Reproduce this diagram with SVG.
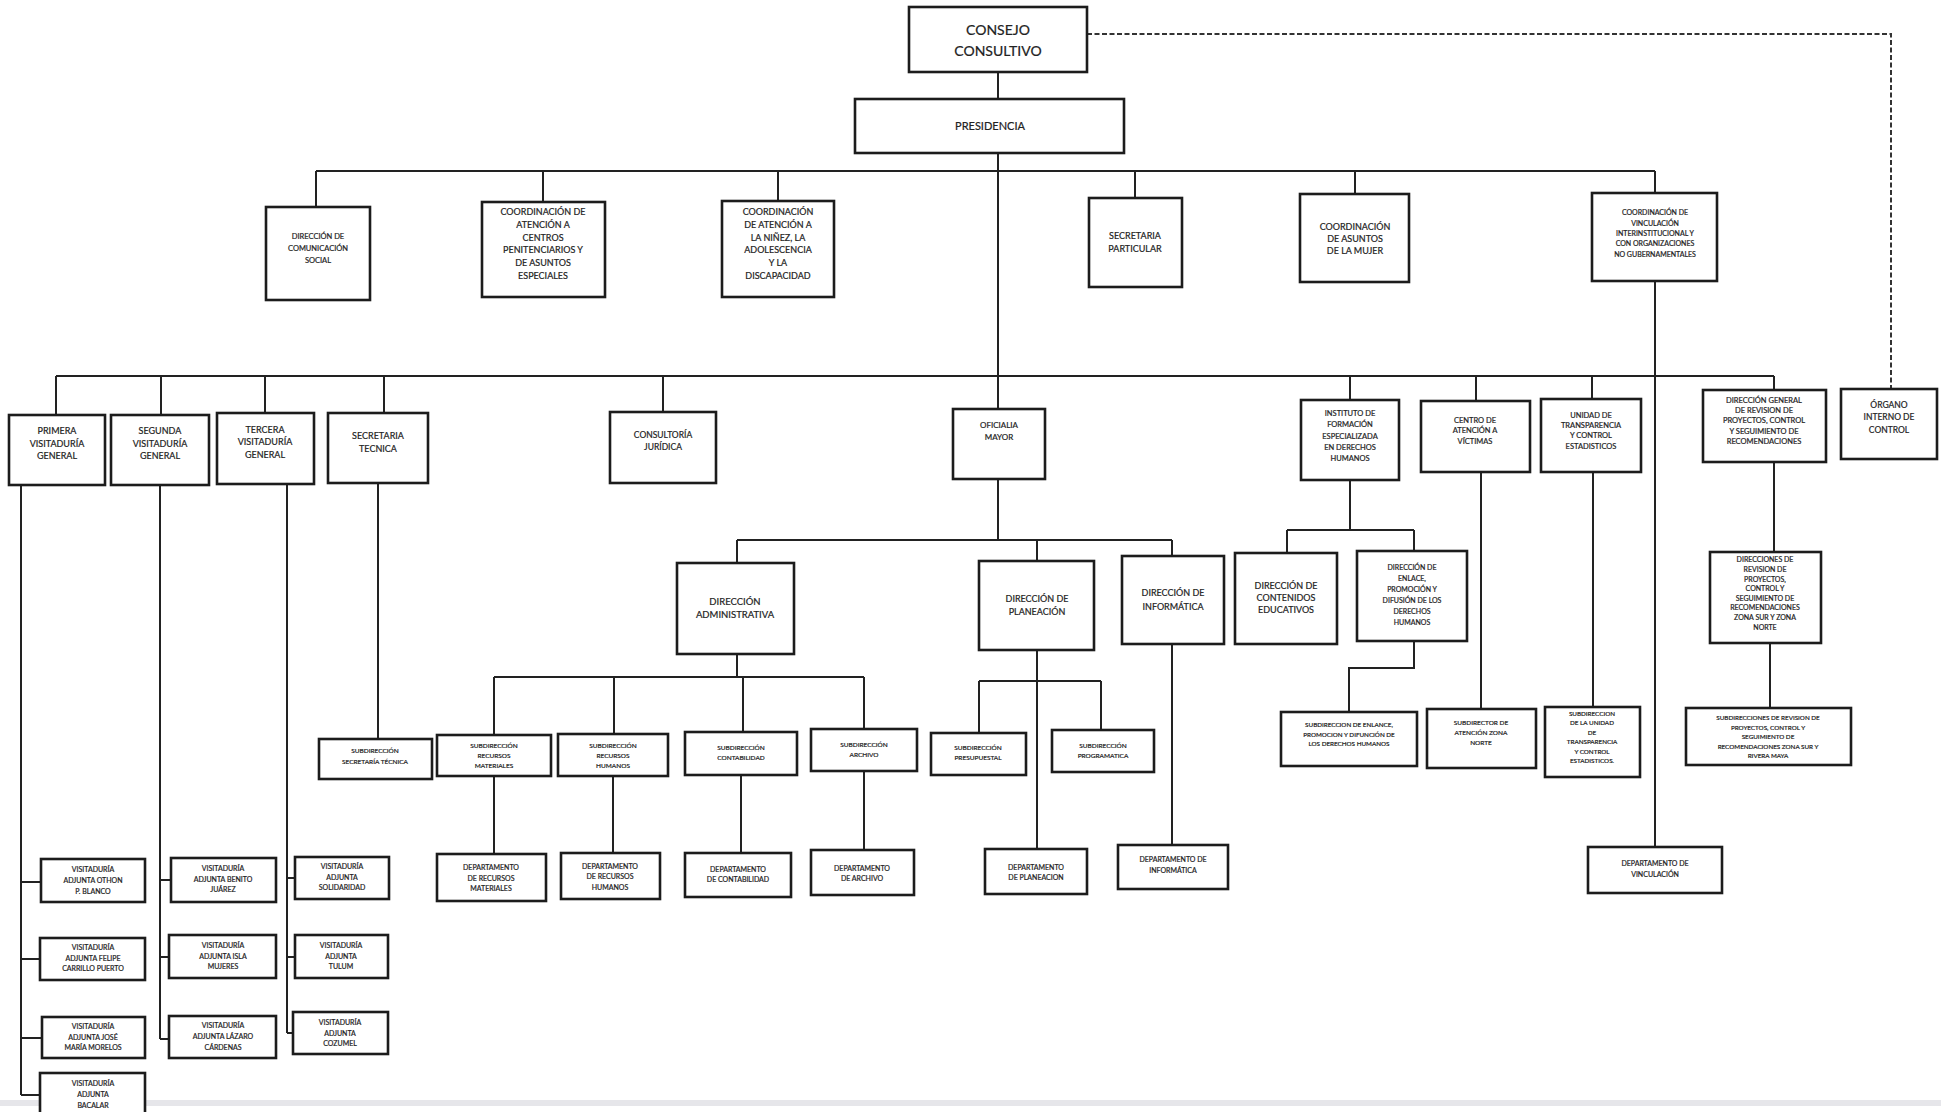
<svg xmlns="http://www.w3.org/2000/svg" width="1941" height="1112" viewBox="0 0 1941 1112">
<style>
.b{fill:#fff;stroke:#1c1c1c;stroke-width:2.6}
.c{fill:none;stroke:#222;stroke-width:2}
.d{fill:none;stroke:#333;stroke-width:2;stroke-dasharray:5 2.5}
text{font-family:Lato,"Open Sans","Liberation Sans",sans-serif;fill:#222;stroke:#222;stroke-width:0.2;text-anchor:middle}
.f14{font-size:14px}.f11{font-size:11px}.f95{font-size:9.5px}.f9{font-size:9px}.f85{font-size:8.5px}.f8{font-size:8px}.f75{font-size:7.5px}.f7{font-size:7px}.f65{font-size:6.5px}.f63{font-size:6.3px}
</style>
<rect width="1941" height="1112" fill="#fff"/>
<rect x="0" y="1100" width="1941" height="6" fill="#e6e6ea"/>
<g id="connectors">
<path class="d" d="M1087 34H1891V389"/>
<path class="c" d="M998 72V99M998 153V409"/>
<path class="c" d="M316 171H1655M316 171V207M543 171V202M778 171V201M1135 171V198M1355 171V194M1655 171V193"/>
<path class="c" d="M1655 281V847"/>
<path class="c" d="M56 376H1774M56 376V415M161 376V415M265 376V413M384 376V413M663 376V412M1350 376V400M1476 376V401M1592 376V399M1774 376V390"/>
<path class="c" d="M21 485V1095M21 882H41M21 959H40M21 1038H42M21 1095H40"/>
<path class="c" d="M160 485V1039M160 880H171M160 957H169M160 1039H169"/>
<path class="c" d="M287 484V1033M287 878H295M287 957H295M287 1033H293"/>
<path class="c" d="M378 483V739"/>
<path class="c" d="M998 479V540M737 540H1172M737 540V563M1037 540V561M1172 540V556"/>
<path class="c" d="M737 654V677M494 677H864M494 677V735M614 677V734M743 677V732M864 677V729"/>
<path class="c" d="M494 776V854M613 776V853M741 775V853M864 771V850"/>
<path class="c" d="M1037 650V849M979 681H1101M979 681V733M1101 681V730"/>
<path class="c" d="M1172 644V845"/>
<path class="c" d="M1350 480V530M1287 530H1414M1287 530V553M1414 530V551"/>
<path class="c" d="M1414 641V668H1349V712"/>
<path class="c" d="M1481 472V709"/>
<path class="c" d="M1593 472V707"/>
<path class="c" d="M1774 462V552M1770 643V708"/>
</g>
<g id="consejo"><rect class="b" x="909" y="7" width="178" height="65"/><text class="f14"><tspan x="998" y="35">CONSEJO</tspan><tspan x="998" y="56">CONSULTIVO</tspan></text></g>
<g id="presidencia"><rect class="b" x="855" y="99" width="269" height="54"/><text class="f11" x="990" y="130">PRESIDENCIA</text></g>
<g id="dcs"><rect class="b" x="266" y="207" width="104" height="93"/><text class="f75"><tspan x="318" y="239">DIRECCIÓN DE</tspan><tspan x="318" y="251">COMUNICACIÓN</tspan><tspan x="318" y="263">SOCIAL</tspan></text></g>
<g id="ccp"><rect class="b" x="482" y="202" width="123" height="95"/><text class="f9"><tspan x="543" y="215">COORDINACIÓN DE</tspan><tspan x="543" y="228">ATENCIÓN A</tspan><tspan x="543" y="241">CENTROS</tspan><tspan x="543" y="253">PENITENCIARIOS Y</tspan><tspan x="543" y="266">DE ASUNTOS</tspan><tspan x="543" y="279">ESPECIALES</tspan></text></g>
<g id="can"><rect class="b" x="722" y="201" width="112" height="96"/><text class="f9"><tspan x="778" y="215">COORDINACIÓN</tspan><tspan x="778" y="228">DE ATENCIÓN A</tspan><tspan x="778" y="241">LA NIÑEZ, LA</tspan><tspan x="778" y="253">ADOLESCENCIA</tspan><tspan x="778" y="266">Y LA</tspan><tspan x="778" y="279">DISCAPACIDAD</tspan></text></g>
<g id="sp"><rect class="b" x="1089" y="198" width="93" height="89"/><text class="f9"><tspan x="1135" y="239">SECRETARIA</tspan><tspan x="1135" y="252">PARTICULAR</tspan></text></g>
<g id="cam"><rect class="b" x="1300" y="194" width="109" height="88"/><text class="f9"><tspan x="1355" y="230">COORDINACIÓN</tspan><tspan x="1355" y="242">DE ASUNTOS</tspan><tspan x="1355" y="254">DE LA MUJER</tspan></text></g>
<g id="cvi"><rect class="b" x="1592" y="193" width="125" height="88"/><text class="f7"><tspan x="1655" y="215">COORDINACIÓN DE</tspan><tspan x="1655" y="226">VINCULACIÓN</tspan><tspan x="1655" y="236">INTERINSTITUCIONAL Y</tspan><tspan x="1655" y="246">CON ORGANIZACIONES</tspan><tspan x="1655" y="257">NO GUBERNAMENTALES</tspan></text></g>
<g id="pvg"><rect class="b" x="9" y="415" width="96" height="70"/><text class="f9"><tspan x="57" y="434">PRIMERA</tspan><tspan x="57" y="446.5">VISITADURÍA</tspan><tspan x="57" y="459">GENERAL</tspan></text></g>
<g id="svg"><rect class="b" x="111" y="415" width="98" height="70"/><text class="f9"><tspan x="160" y="434">SEGUNDA</tspan><tspan x="160" y="446.5">VISITADURÍA</tspan><tspan x="160" y="459">GENERAL</tspan></text></g>
<g id="tvg"><rect class="b" x="217" y="413" width="97" height="71"/><text class="f9"><tspan x="265" y="433">TERCERA</tspan><tspan x="265" y="445">VISITADURÍA</tspan><tspan x="265" y="457.5">GENERAL</tspan></text></g>
<g id="st"><rect class="b" x="328" y="413" width="100" height="70"/><text class="f9"><tspan x="378" y="439">SECRETARIA</tspan><tspan x="378" y="452">TECNICA</tspan></text></g>
<g id="cj"><rect class="b" x="610" y="412" width="106" height="71"/><text class="f85"><tspan x="663" y="438">CONSULTORÍA</tspan><tspan x="663" y="450">JURÍDICA</tspan></text></g>
<g id="om"><rect class="b" x="953" y="409" width="92" height="70"/><text class="f8"><tspan x="999" y="428">OFICIALIA</tspan><tspan x="999" y="440">MAYOR</tspan></text></g>
<g id="ifedh"><rect class="b" x="1301" y="400" width="98" height="80"/><text class="f75"><tspan x="1350" y="416">INSTITUTO DE</tspan><tspan x="1350" y="427">FORMACIÓN</tspan><tspan x="1350" y="439">ESPECIALIZADA</tspan><tspan x="1350" y="450">EN DERECHOS</tspan><tspan x="1350" y="461">HUMANOS</tspan></text></g>
<g id="cav"><rect class="b" x="1421" y="401" width="109" height="71"/><text class="f75"><tspan x="1475" y="423">CENTRO DE</tspan><tspan x="1475" y="433">ATENCIÓN A</tspan><tspan x="1475" y="444">VÍCTIMAS</tspan></text></g>
<g id="utce"><rect class="b" x="1541" y="399" width="100" height="73"/><text class="f75"><tspan x="1591" y="418">UNIDAD DE</tspan><tspan x="1591" y="428">TRANSPARENCIA</tspan><tspan x="1591" y="438">Y CONTROL</tspan><tspan x="1591" y="449">ESTADISTICOS</tspan></text></g>
<g id="dgr"><rect class="b" x="1703" y="390" width="123" height="72"/><text class="f75"><tspan x="1764" y="403">DIRECCIÓN GENERAL</tspan><tspan x="1764" y="413">DE REVISION DE</tspan><tspan x="1764" y="423">PROYECTOS, CONTROL</tspan><tspan x="1764" y="434">Y SEGUIMIENTO DE</tspan><tspan x="1764" y="444">RECOMENDACIONES</tspan></text></g>
<g id="oic"><rect class="b" x="1841" y="389" width="96" height="70"/><text class="f85"><tspan x="1889" y="408">ÓRGANO</tspan><tspan x="1889" y="420">INTERNO DE</tspan><tspan x="1889" y="433">CONTROL</tspan></text></g>
<g id="da"><rect class="b" x="677" y="563" width="117" height="91"/><text class="f95"><tspan x="735" y="605">DIRECCIÓN</tspan><tspan x="735" y="618">ADMINISTRATIVA</tspan></text></g>
<g id="dp"><rect class="b" x="979" y="561" width="115" height="89"/><text class="f9"><tspan x="1037" y="602">DIRECCIÓN DE</tspan><tspan x="1037" y="615">PLANEACIÓN</tspan></text></g>
<g id="di"><rect class="b" x="1122" y="556" width="102" height="88"/><text class="f9"><tspan x="1173" y="596">DIRECCIÓN DE</tspan><tspan x="1173" y="610">INFORMÁTICA</tspan></text></g>
<g id="dce"><rect class="b" x="1235" y="553" width="102" height="91"/><text class="f9"><tspan x="1286" y="589">DIRECCIÓN DE</tspan><tspan x="1286" y="601">CONTENIDOS</tspan><tspan x="1286" y="613">EDUCATIVOS</tspan></text></g>
<g id="dep"><rect class="b" x="1357" y="551" width="110" height="90"/><text class="f7"><tspan x="1412" y="570">DIRECCIÓN DE</tspan><tspan x="1412" y="581">ENLACE,</tspan><tspan x="1412" y="592">PROMOCIÓN Y</tspan><tspan x="1412" y="603">DIFUSIÓN DE LOS</tspan><tspan x="1412" y="614">DERECHOS</tspan><tspan x="1412" y="625">HUMANOS</tspan></text></g>
<g id="drz"><rect class="b" x="1710" y="552" width="111" height="91"/><text class="f7"><tspan x="1765" y="562">DIRECCIONES DE</tspan><tspan x="1765" y="572">REVISION DE</tspan><tspan x="1765" y="582">PROYECTOS,</tspan><tspan x="1765" y="591">CONTROL Y</tspan><tspan x="1765" y="601">SEGUIMIENTO DE</tspan><tspan x="1765" y="610">RECOMENDACIONES</tspan><tspan x="1765" y="620">ZONA SUR Y ZONA</tspan><tspan x="1765" y="630">NORTE</tspan></text></g>
<g id="sst"><rect class="b" x="319" y="739" width="113" height="40"/><text class="f65"><tspan x="375" y="753">SUBDIRECCIÓN</tspan><tspan x="375" y="764">SECRETARÍA TÉCNICA</tspan></text></g>
<g id="srm"><rect class="b" x="437" y="735" width="114" height="41"/><text class="f65"><tspan x="494" y="748">SUBDIRECCIÓN</tspan><tspan x="494" y="758">RECURSOS</tspan><tspan x="494" y="768">MATERIALES</tspan></text></g>
<g id="srh"><rect class="b" x="558" y="734" width="110" height="42"/><text class="f65"><tspan x="613" y="748">SUBDIRECCIÓN</tspan><tspan x="613" y="758">RECURSOS</tspan><tspan x="613" y="768">HUMANOS</tspan></text></g>
<g id="sc"><rect class="b" x="685" y="732" width="112" height="43"/><text class="f65"><tspan x="741" y="750">SUBDIRECCIÓN</tspan><tspan x="741" y="760">CONTABILIDAD</tspan></text></g>
<g id="sa"><rect class="b" x="811" y="729" width="106" height="42"/><text class="f65"><tspan x="864" y="747">SUBDIRECCIÓN</tspan><tspan x="864" y="757">ARCHIVO</tspan></text></g>
<g id="spp"><rect class="b" x="931" y="733" width="95" height="42"/><text class="f65"><tspan x="978" y="750">SUBDIRECCIÓN</tspan><tspan x="978" y="760">PRESUPUESTAL</tspan></text></g>
<g id="spg"><rect class="b" x="1052" y="730" width="102" height="42"/><text class="f65"><tspan x="1103" y="748">SUBDIRECCIÓN</tspan><tspan x="1103" y="758">PROGRAMATICA</tspan></text></g>
<g id="sep"><rect class="b" x="1281" y="712" width="136" height="54"/><text class="f63"><tspan x="1349" y="727">SUBDIRECCION DE ENLANCE,</tspan><tspan x="1349" y="737">PROMOCION Y DIFUNCIÓN DE</tspan><tspan x="1349" y="746">LOS DERECHOS HUMANOS</tspan></text></g>
<g id="sazn"><rect class="b" x="1427" y="709" width="109" height="59"/><text class="f65"><tspan x="1481" y="725">SUBDIRECTOR DE</tspan><tspan x="1481" y="735">ATENCIÓN ZONA</tspan><tspan x="1481" y="745">NORTE</tspan></text></g>
<g id="sut"><rect class="b" x="1545" y="707" width="95" height="70"/><text class="f63"><tspan x="1592" y="716">SUBDIRECCION</tspan><tspan x="1592" y="725">DE LA UNIDAD</tspan><tspan x="1592" y="735">DE</tspan><tspan x="1592" y="744">TRANSPARENCIA</tspan><tspan x="1592" y="754">Y CONTROL</tspan><tspan x="1592" y="763">ESTADISTICOS.</tspan></text></g>
<g id="srz"><rect class="b" x="1686" y="708" width="165" height="57"/><text class="f63"><tspan x="1768" y="720">SUBDIRECCIONES  DE REVISION DE</tspan><tspan x="1768" y="730">PROYECTOS, CONTROL Y</tspan><tspan x="1768" y="739">SEGUIMIENTO DE</tspan><tspan x="1768" y="749">RECOMENDACIONES  ZONA SUR  Y</tspan><tspan x="1768" y="758">RIVERA MAYA</tspan></text></g>
<g id="drm"><rect class="b" x="437" y="854" width="109" height="47"/><text class="f7"><tspan x="491" y="870">DEPARTAMENTO</tspan><tspan x="491" y="881">DE RECURSOS</tspan><tspan x="491" y="891">MATERIALES</tspan></text></g>
<g id="drh"><rect class="b" x="561" y="853" width="99" height="46"/><text class="f7"><tspan x="610" y="869">DEPARTAMENTO</tspan><tspan x="610" y="879">DE RECURSOS</tspan><tspan x="610" y="890">HUMANOS</tspan></text></g>
<g id="dc"><rect class="b" x="685" y="853" width="106" height="44"/><text class="f7"><tspan x="738" y="872">DEPARTAMENTO</tspan><tspan x="738" y="882">DE CONTABILIDAD</tspan></text></g>
<g id="dar"><rect class="b" x="811" y="850" width="103" height="45"/><text class="f7"><tspan x="862" y="871">DEPARTAMENTO</tspan><tspan x="862" y="881">DE ARCHIVO</tspan></text></g>
<g id="dpl"><rect class="b" x="985" y="849" width="102" height="45"/><text class="f7"><tspan x="1036" y="870">DEPARTAMENTO</tspan><tspan x="1036" y="880">DE PLANEACION</tspan></text></g>
<g id="dinf"><rect class="b" x="1118" y="845" width="110" height="44"/><text class="f7"><tspan x="1173" y="862">DEPARTAMENTO DE</tspan><tspan x="1173" y="873">INFORMÁTICA</tspan></text></g>
<g id="dvin"><rect class="b" x="1588" y="847" width="134" height="46"/><text class="f7"><tspan x="1655" y="866">DEPARTAMENTO DE</tspan><tspan x="1655" y="877">VINCULACIÓN</tspan></text></g>
<g id="vop"><rect class="b" x="41" y="859" width="104" height="43"/><text class="f7"><tspan x="93" y="871.5">VISITADURÍA</tspan><tspan x="93" y="882.5">ADJUNTA OTHON</tspan><tspan x="93" y="893.5">P. BLANCO</tspan></text></g>
<g id="vfcp"><rect class="b" x="40" y="938" width="105" height="42"/><text class="f7"><tspan x="93" y="950">VISITADURÍA</tspan><tspan x="93" y="960.5">ADJUNTA  FELIPE</tspan><tspan x="93" y="971">CARRILLO PUERTO</tspan></text></g>
<g id="vjmm"><rect class="b" x="42" y="1017" width="103" height="41"/><text class="f7"><tspan x="93" y="1029">VISITADURÍA</tspan><tspan x="93" y="1039.5">ADJUNTA JOSÉ</tspan><tspan x="93" y="1050">MARÍA MORELOS</tspan></text></g>
<g id="vbac"><rect class="b" x="40" y="1073" width="105" height="46"/><text class="f7"><tspan x="93" y="1086">VISITADURÍA</tspan><tspan x="93" y="1097">ADJUNTA</tspan><tspan x="93" y="1108">BACALAR</tspan></text></g>
<g id="vbj"><rect class="b" x="171" y="858" width="105" height="44"/><text class="f7"><tspan x="223" y="871">VISITADURÍA</tspan><tspan x="223" y="881.5">ADJUNTA BENITO</tspan><tspan x="223" y="892">JUÁREZ</tspan></text></g>
<g id="vim"><rect class="b" x="169" y="935" width="107" height="43"/><text class="f7"><tspan x="223" y="948">VISITADURÍA</tspan><tspan x="223" y="958.5">ADJUNTA ISLA</tspan><tspan x="223" y="969">MUJERES</tspan></text></g>
<g id="vlc"><rect class="b" x="169" y="1016" width="107" height="42"/><text class="f7"><tspan x="223" y="1028">VISITADURÍA</tspan><tspan x="223" y="1039">ADJUNTA LÁZARO</tspan><tspan x="223" y="1049.5">CÁRDENAS</tspan></text></g>
<g id="vsol"><rect class="b" x="295" y="857" width="94" height="42"/><text class="f7"><tspan x="342" y="869">VISITADURÍA</tspan><tspan x="342" y="879.5">ADJUNTA</tspan><tspan x="342" y="890">SOLIDARIDAD</tspan></text></g>
<g id="vtul"><rect class="b" x="295" y="935" width="93" height="43"/><text class="f7"><tspan x="341" y="948">VISITADURÍA</tspan><tspan x="341" y="958.5">ADJUNTA</tspan><tspan x="341" y="969">TULUM</tspan></text></g>
<g id="vcoz"><rect class="b" x="293" y="1012" width="95" height="42"/><text class="f7"><tspan x="340" y="1025">VISITADURÍA</tspan><tspan x="340" y="1035.5">ADJUNTA</tspan><tspan x="340" y="1046">COZUMEL</tspan></text></g>
</svg>
